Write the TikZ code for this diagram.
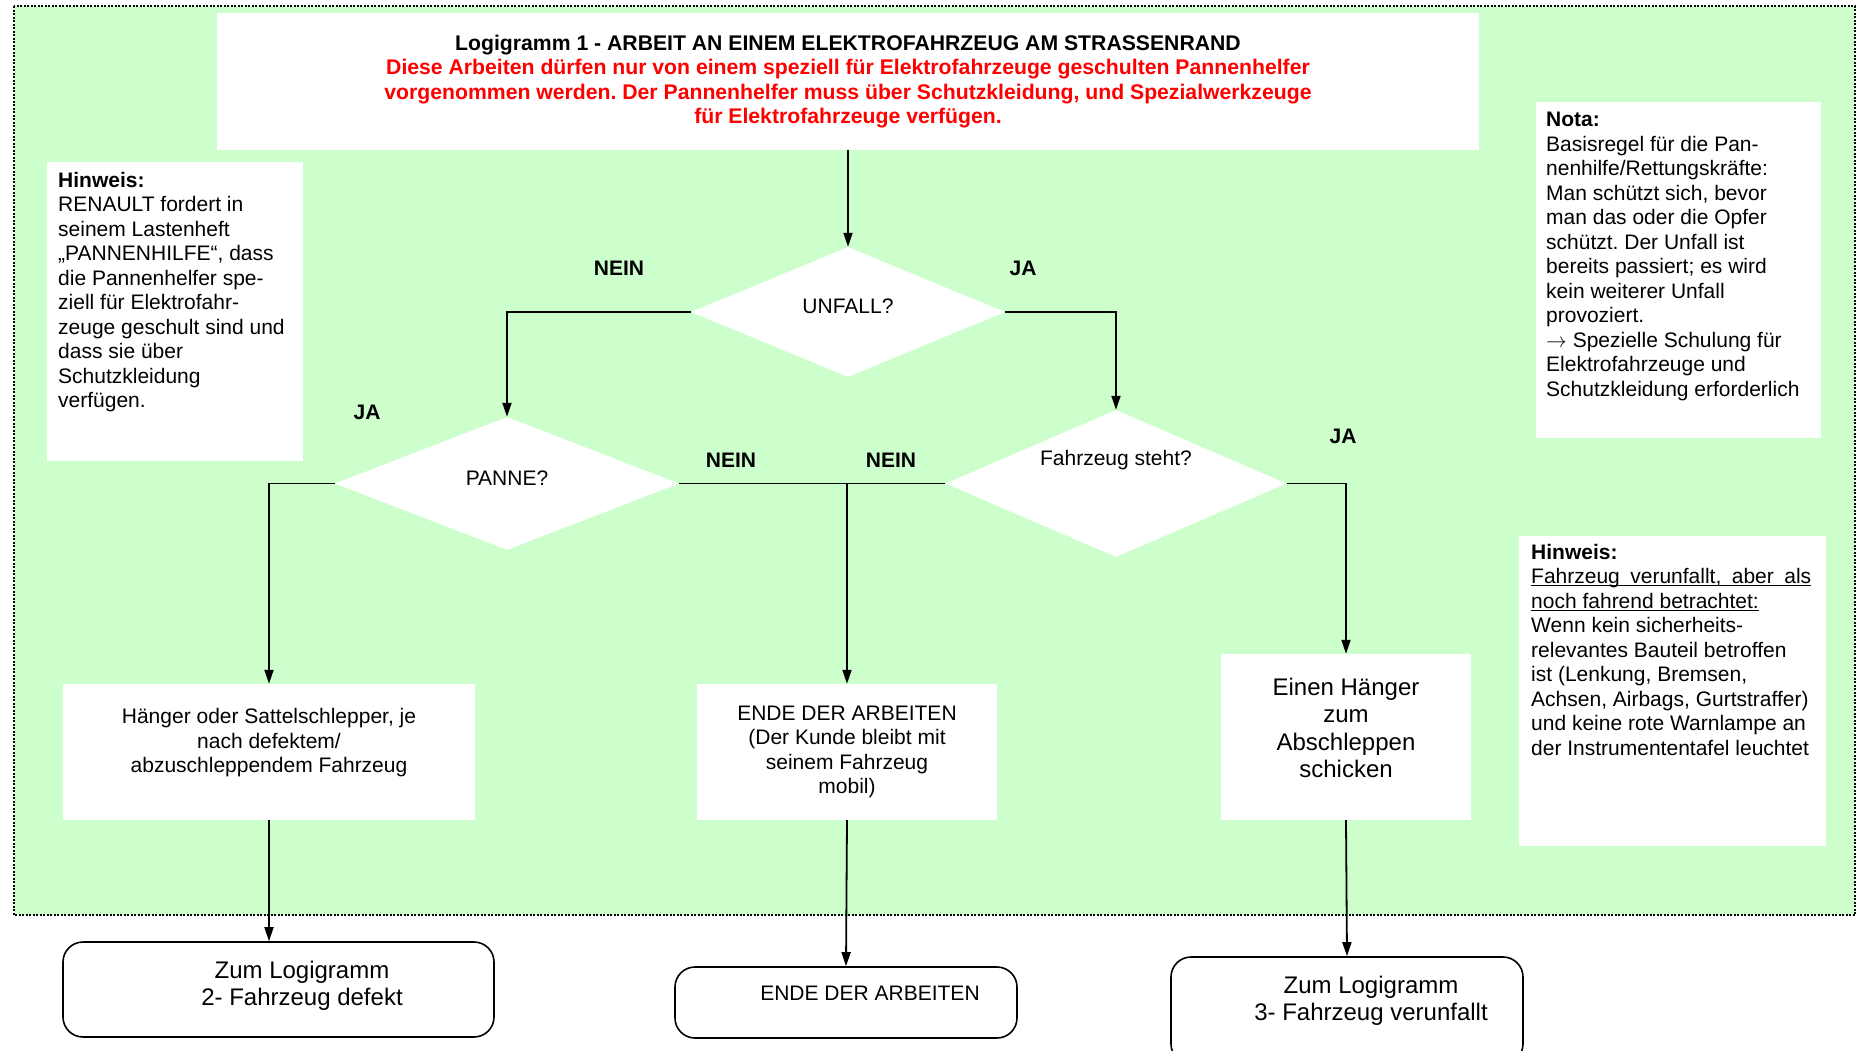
\documentclass[tikz,border=0pt]{standalone}
\usepackage{fontspec}
\setmainfont{Liberation Sans}
\frenchspacing
\usetikzlibrary{shapes.geometric,arrows.meta}
\definecolor{bggreen}{HTML}{CCFFCC}
\definecolor{warnred}{HTML}{FF0000}
\tikzset{
  whitebox/.style={fill=white, inner sep=0pt},
  decision/.style={diamond, fill=white, inner sep=0pt},
  terminal/.style={draw, fill=white, rounded corners=20pt, line width=1.6pt, inner sep=0pt},
  flow/.style={line width=1.8pt},
  flowarrow/.style={flow, -{Triangle[length=14pt,width=9pt]}},
  answer/.style={font=\fontsize{21}{24.5}\selectfont\bfseries, inner sep=0pt},
  notetext/.style={align=left, inner sep=0pt, anchor=north west},
  bigtext/.style={font=\fontsize{24}{27.3}\selectfont, align=center, inner sep=0pt},
}
\begin{document}
\begin{tikzpicture}[x=1pt, y=-1pt, font=\fontsize{21}{24.5}\selectfont]
  \useasboundingbox (0,0) rectangle (1858,1050);
  \draw[fill=bggreen, line width=2pt, dash pattern=on 2pt off 1.5pt] (14,6) rectangle (1855,915);
  \node[whitebox, minimum width=1262pt, minimum height=137pt, align=center, font=\fontsize{21.2}{24.3}\selectfont\bfseries] (title) at (848,81.5)
    {Logigramm 1 - ARBEIT AN EINEM ELEKTROFAHRZEUG AM STRASSENRAND\\
     \textcolor{warnred}{Diese Arbeiten dürfen nur von einem speziell für Elektrofahrzeuge geschulten Pannenhelfer}\\
     \textcolor{warnred}{vorgenommen werden. Der Pannenhelfer muss über Schutzkleidung, und Spezialwerkzeuge}\\
     \textcolor{warnred}{für Elektrofahrzeuge verfügen.}};
  \node[whitebox, minimum width=256pt, minimum height=299pt] (hinweisL) at (175,311.5) {};
  \node[whitebox, minimum width=285pt, minimum height=336pt] (nota) at (1678.5,270) {};
  \node[whitebox, minimum width=307pt, minimum height=310pt] (hinweisR) at (1672.5,691) {};
  \node[notetext] (hinweisLtext) at (58,172)
    {\textbf{Hinweis:}\\ RENAULT fordert in\\ seinem Lastenheft\\ „PANNENHILFE“, dass\\ die Pannenhelfer spe-\\
     ziell für Elektrofahr-\\ zeuge geschult sind und\\ dass sie über\\ Schutzkleidung\\ verfügen.};
  \node[notetext] (notatext) at (1546,112)
    {\textbf{Nota:}\\ Basisregel für die Pan-\\ nenhilfe/Rettungskräfte:\\ Man schützt sich, bevor\\ man das oder die Opfer\\
     schützt. Der Unfall ist\\ bereits passiert; es wird\\ kein weiterer Unfall\\ provoziert.\\
     $\rightarrow$ Spezielle Schulung für\\ Elektrofahrzeuge und\\ Schutzkleidung erforderlich};
  \node[notetext] (hinweisRtext) at (1531,544)
    {\textbf{Hinweis:}\\ \underline{\smash{\makebox[280pt][s]{Fahrzeug verunfallt, aber als}}}\\
     \underline{\smash{noch fahrend betrachtet:}}\\ Wenn kein sicherheits-\\ relevantes Bauteil betroffen\\
     ist (Lenkung, Bremsen,\\ Achsen, Airbags, Gurtstraffer)\\ und keine rote Warnlampe an\\ der Instrumententafel leuchtet};
  \node[decision, minimum width=314pt, minimum height=130pt] (unfall) at (848,312) {};
  \node[decision, minimum width=344pt, minimum height=133pt] (panne) at (507,483.5) {};
  \node[decision, minimum width=341pt, minimum height=147pt] (steht) at (1116,483.5) {};
  \node[inner sep=0pt] (unfalltext) at (848,306) {UNFALL?};
  \node[inner sep=0pt] (pannetext) at (507,478) {PANNE?};
  \node[inner sep=0pt] (stehttext) at (1116,460) {Fahrzeug steht?};
  \node[whitebox, minimum width=412pt, minimum height=136pt] (haenger) at (269,752) {};
  \node[inner sep=0pt, align=center] (haengertext) at (269,743)
    {Hänger oder Sattelschlepper, je\\ nach defektem/\\ abzuschleppendem Fahrzeug};
  \node[whitebox, minimum width=300pt, minimum height=136pt, align=center] (ende) at (847,752)
    {ENDE DER ARBEITEN\\ (Der Kunde bleibt mit\\ seinem Fahrzeug\\ mobil)};
  \node[whitebox, minimum width=250pt, minimum height=166pt] (abschlepp) at (1346,737) {};
  \node[bigtext] (abschlepptext) at (1346,728) {Einen Hänger\\ zum\\ Abschleppen\\ schicken};
  \node[terminal, minimum width=431pt, minimum height=95pt] (logi2) at (278.5,989.5) {};
  \node[terminal, minimum width=342pt, minimum height=71pt] (endeB) at (846,1002.5) {};
  \node[terminal, minimum width=352pt, minimum height=107pt] (logi3) at (1347,1010.5) {};
  \node[bigtext] (logi2text) at (302,986) {Zum Logigramm\\ 2- Fahrzeug defekt};
  \node[inner sep=0pt] (endeBtext) at (870,993) {ENDE DER ARBEITEN};
  \node[bigtext] (logi3text) at (1371,1001) {Zum Logigramm\\ 3- Fahrzeug verunfallt};
  \node[answer] (neinA) at (619,268) {NEIN};
  \node[answer] (jaA) at (1023,268) {JA};
  \node[answer] (jaB) at (367,412) {JA};
  \node[answer] (neinB) at (731,460) {NEIN};
  \node[answer] (neinC) at (891,460) {NEIN};
  \node[answer] (jaC) at (1343,436) {JA};
  \coordinate (merge) at (ende.north |- panne.east);
  \draw[flowarrow] (title.south) -- (unfall.north);
  \draw[flowarrow] (unfall.west) -| (panne.north);
  \draw[flowarrow] (unfall.east) -| (steht.north);
  \draw[flowarrow] (panne.west) -| (haenger.north);
  \draw[flow] (panne.east) -- (steht.west);
  \draw[flowarrow] (merge) -- (ende.north);
  \draw[flowarrow] (steht.east) -| (abschlepp.north);
  \draw[flowarrow] (haenger.south) -- (haenger.south |- logi2.north);
  \draw[flowarrow] (ende.south) -- (endeB.north);
  \draw[flowarrow] (abschlepp.south) -- (logi3.north);
\end{tikzpicture}
\end{document}
